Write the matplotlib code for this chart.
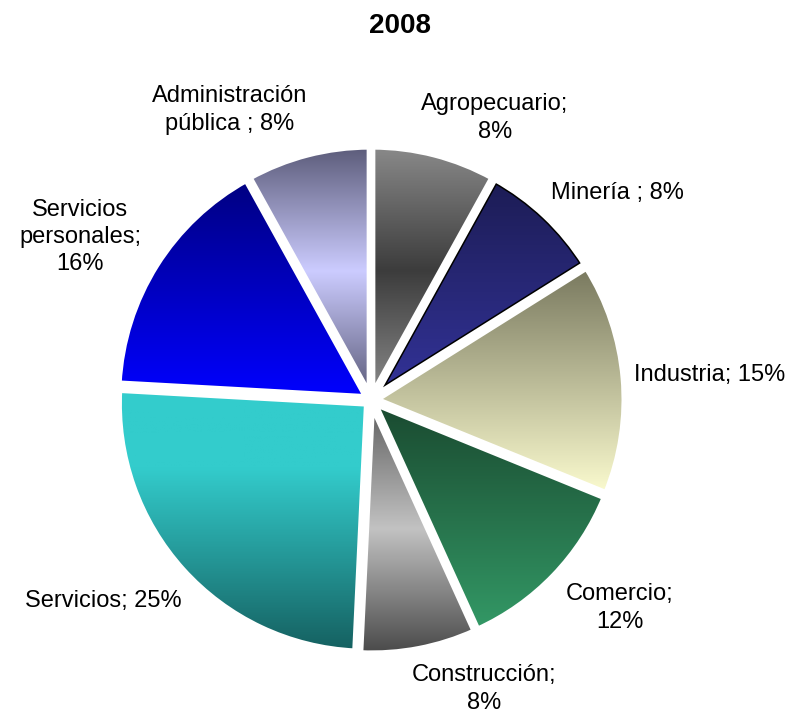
import numpy as np
import matplotlib
matplotlib.use('Agg')
import matplotlib.pyplot as plt
import matplotlib.patches as mpatches
from matplotlib.colors import LinearSegmentedColormap

plt.rcParams['font.family'] = ['Liberation Sans', 'DejaVu Sans']

sectores = ['Agropecuario', 'Minería', 'Industria', 'Comercio', 'Construcción',
            'Servicios', 'Servicios personales', 'Administración pública']
# valores estimados (las etiquetas vienen redondeadas)
valores = [8, 8, 15, 12, 7.5, 25, 16, 8]
etiquetas = ['Agropecuario;\n8%', 'Minería ; 8%', 'Industria; 15%', 'Comercio;\n12%',
             'Construcción;\n8%', 'Servicios; 25%', 'Servicios\npersonales;\n16%',
             'Administración\npública ; 8%']

# gradientes verticales (arriba -> abajo)
gradientes = [
    [(0, '#8a8a8a'), (0.5, '#3c3c3c'), (1, '#8a8a8a')],
    [(0, '#1c1c54'), (1, '#333399')],
    [(0, '#78785e'), (1, '#fbfbcf')],
    [(0, '#1a4a30'), (1, '#339966')],
    [(0, '#5e5e5e'), (0.5, '#c2c2c2'), (1, '#4a4a4a')],
    [(0, '#33cccc'), (0.3, '#33cccc'), (1, '#156060')],
    [(0, '#000080'), (1, '#0000ff')],
    [(0, '#5c5c7a'), (0.5, '#ccccff'), (1, '#5c5c7a')],
]
pos_etiquetas = [(495, 596), (617, 521), (710, 339), (620, 106),
                 (484, 25), (103, 113), (80, 477), (230, 604)]

fig = plt.figure(figsize=(7.89, 7.14), dpi=100)
ax = fig.add_axes([0, 0, 1, 1])

wedges, _ = ax.pie(valores, explode=[5.5] * len(valores), radius=248, center=(371, 314),
                   startangle=90, counterclock=False,
                   wedgeprops=dict(facecolor='none', edgecolor='white', linewidth=4.3))

grad = np.linspace(0, 1, 256).reshape(-1, 1)
for i, w in enumerate(wedges):
    w.set_zorder(4)
    ext = w.get_path().get_extents()
    cmap = LinearSegmentedColormap.from_list('g%d' % i, gradientes[i])
    im = ax.imshow(grad, cmap=cmap, aspect='auto', origin='upper',
                   extent=[ext.x0, ext.x1, ext.y0, ext.y1], zorder=2)
    im.set_clip_path(w)
    if sectores[i] == 'Minería':
        borde = mpatches.Wedge(w.center, w.r, w.theta1, w.theta2, facecolor='none',
                               edgecolor='black', linewidth=6.5, zorder=3)
        ax.add_patch(borde)
        borde.set_clip_path(w)

for txt, (x, y) in zip(etiquetas, pos_etiquetas):
    ax.text(x, y, txt, ha='center', va='center', fontsize=17, linespacing=1.3)

ax.text(400, 688, '2008', ha='center', va='center', fontsize=20, fontweight='bold')

ax.set_xlim(0, 789)
ax.set_ylim(0, 714)
ax.set_aspect('equal')
ax.axis('off')

fig.savefig('out.png', dpi=100)
